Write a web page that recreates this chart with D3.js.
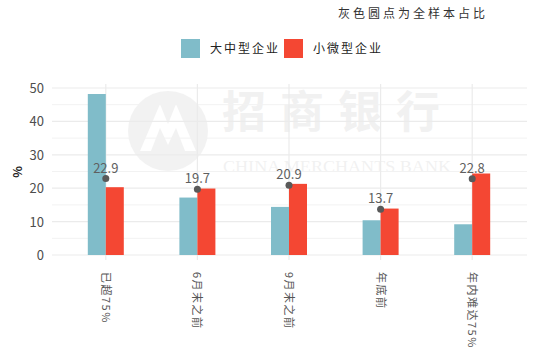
<!DOCTYPE html>
<html>
<head>
<meta charset="utf-8">
<script src="https://cdn.jsdelivr.net/npm/d3@7"></script>
<style>
body { margin: 0; background: #fff; }
text { font-family: "Noto Sans CJK SC", "Noto Sans", sans-serif; }
</style>
</head>
<body>
<div id="chart"></div>
<script>
// data
var categories = ["已超75%", "6月末之前", "9月末之前", "年底前", "年内难达75%"];
var seriesNames = ["大中型企业", "小微型企业"];
var largeVals = [48.2, 17.2, 14.4, 10.4, 9.2];
var smallVals = [20.3, 19.9, 21.3, 13.9, 24.4];
var totalVals = [22.9, 19.7, 20.9, 13.7, 22.8];
var yTicks = [0, 10, 20, 30, 40, 50];
var colors = ["#80bcc9", "#f44733"];

var W = 550, H = 358;
var svg = d3.select("#chart").append("svg").attr("width", W).attr("height", H);

var x = d3.scaleBand().domain(categories).range([60, 518]).padding(0);
var y = d3.scaleLinear().domain([0, 50]).range([255, 88]);
var barW = 18;

// watermark
var wm = svg.append("g").style("opacity", 0.07);
wm.append("circle").attr("cx", 168).attr("cy", 131).attr("r", 40).style("fill", "#555");
wm.append("path").attr("d", "M140,151 L160,104 L168,124 L176,104 L196,151 L185,151 L176,128 L168,145 L160,128 L151,151 Z")
  .style("fill", "#fff");
wm.append("text").attr("x", 222).attr("y", 128).text("招商银行")
  .style("font-size", "44px").style("font-weight", "bold").style("letter-spacing", "14px").style("fill", "#444");
wm.append("text").attr("x", 223).attr("y", 172).text("CHINA MERCHANTS BANK")
  .attr("textLength", 228).attr("lengthAdjust", "spacingAndGlyphs")
  .style("font-size", "16px").style("font-family", "Liberation Serif").style("fill", "#444");

// gridlines
var grid = svg.append("g");
grid.selectAll("line.minor").data(d3.range(5, 55, 10)).enter().append("line")
  .attr("x1", 52).attr("x2", 527).attr("y1", y).attr("y2", y)
  .style("stroke", "#f2f2f2").style("stroke-width", 1);
grid.selectAll("line.major").data(yTicks).enter().append("line")
  .attr("x1", 52).attr("x2", 527).attr("y1", y).attr("y2", y)
  .style("stroke", "#ebebeb").style("stroke-width", 1.2);
grid.selectAll("line.vert").data(categories).enter().append("line")
  .attr("x1", function(d) { return x(d) + x.bandwidth() / 2; })
  .attr("x2", function(d) { return x(d) + x.bandwidth() / 2; })
  .attr("y1", 84).attr("y2", 260)
  .style("stroke", "#ebebeb").style("stroke-width", 1.2);

// bars
var g = svg.append("g");
g.selectAll("rect.large").data(largeVals).enter().append("rect")
  .attr("x", function(d, i) { return x(categories[i]) + x.bandwidth() / 2 - barW; })
  .attr("y", y).attr("width", barW).attr("height", function(d) { return y(0) - y(d); })
  .style("fill", colors[0]);
g.selectAll("rect.small").data(smallVals).enter().append("rect")
  .attr("x", function(d, i) { return x(categories[i]) + x.bandwidth() / 2; })
  .attr("y", y).attr("width", barW).attr("height", function(d) { return y(0) - y(d); })
  .style("fill", colors[1]);

// total dots
g.selectAll("circle.dot").data(totalVals).enter().append("circle")
  .attr("cx", function(d, i) { return x(categories[i]) + x.bandwidth() / 2; })
  .attr("cy", y).attr("r", 3.5).style("fill", "#595959");
g.selectAll("text.lbl").data(totalVals).enter().append("text")
  .attr("x", function(d, i) { return x(categories[i]) + x.bandwidth() / 2; })
  .attr("y", function(d) { return y(d) - 6; })
  .attr("text-anchor", "middle").text(function(d) { return d.toFixed(1); })
  .style("font-size", "13px").style("fill", "#5f5f5f");

// y axis labels
svg.selectAll("text.ytick").data(yTicks).enter().append("text")
  .attr("x", 44).attr("y", function(d) { return y(d) + 5; })
  .attr("text-anchor", "end").text(String)
  .style("font-size", "13px").style("fill", "#4d4d4d");
svg.append("text").attr("transform", "translate(22,172) rotate(-90)")
  .attr("text-anchor", "middle").text("%")
  .style("font-size", "12px").style("font-weight", "bold").style("fill", "#222");

// x labels
svg.selectAll("text.xlab").data(categories).enter().append("text")
  .attr("transform", function(d) { return "translate(" + (x(d) + x.bandwidth() / 2 - 4) + ",272) rotate(90)"; })
  .text(String)
  .style("font-size", "11px").style("letter-spacing", "1.5px").style("fill", "#555");

// legend
var lg = svg.selectAll("g.leg").data(seriesNames).enter().append("g")
  .attr("transform", function(d, i) { return "translate(" + (181 + i * 103) + ",39)"; });
lg.append("rect").attr("width", 19).attr("height", 19)
  .style("fill", function(d, i) { return colors[i]; });
lg.append("text").attr("x", 29).attr("y", 14).text(String)
  .style("font-size", "12px").style("letter-spacing", "2px").style("fill", "#222");

// note
svg.append("text").attr("x", 488).attr("y", 18).attr("text-anchor", "end")
  .text("灰色圆点为全样本占比")
  .style("font-size", "12px").style("letter-spacing", "3px").style("fill", "#333");
</script>
</body>
</html>
